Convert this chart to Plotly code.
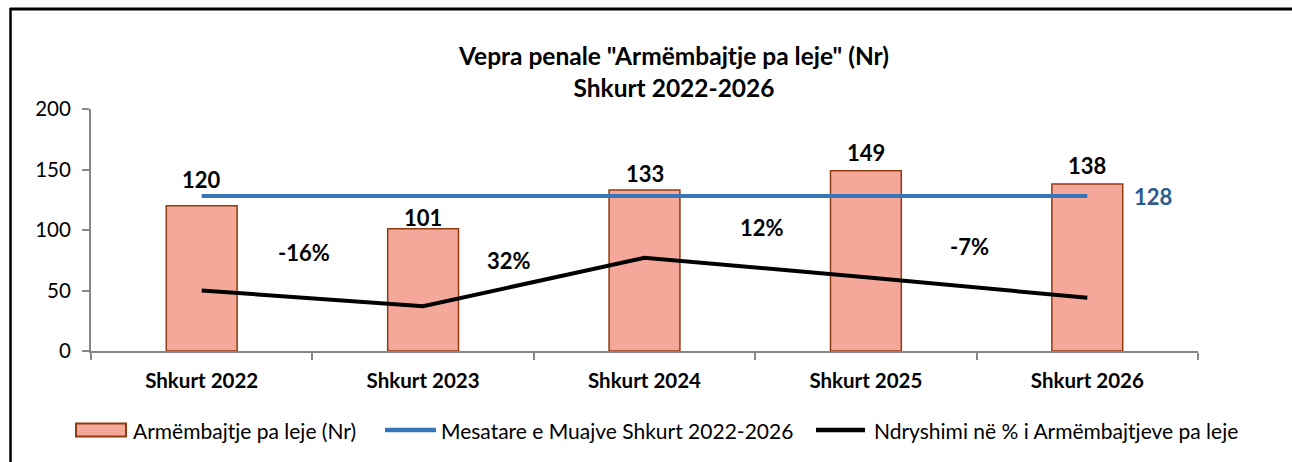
import plotly.graph_objects as go

categories = ["Shkurt 2022", "Shkurt 2023", "Shkurt 2024", "Shkurt 2025", "Shkurt 2026"]
bar_values = [120, 101, 133, 149, 138]
average_value = 128
change_line = [50, 37, 77, 61, 44]
change_labels = ["-16%", "32%", "12%", "-7%"]

bar_name = "Armëmbajtje pa leje (Nr)"
avg_name = "Mesatare e Muajve Shkurt 2022-2026"
chg_name = "Ndryshimi në % i Armëmbajtjeve pa leje"
title_text = 'Vepra penale "Armëmbajtje pa leje" (Nr)<br>Shkurt 2022-2026'

BAR_FILL, BAR_EDGE = "#F5A89A", "#8E3B12"
AVG_COLOR, CHG_COLOR = "#3676B8", "#000000"

W, H = 1292, 462
L, R, T, B = 91, 94, 109, 111
PW, PH = W - L - R, H - T - B

def px(x):
    return (x - L) / PW

def py(y):
    return (H - B - y) / PH

FONT = "Lato"

fig = go.Figure()
fig.add_trace(go.Bar(
    x=categories, y=bar_values, name=bar_name, width=0.32,
    marker=dict(color=BAR_FILL, line=dict(color=BAR_EDGE, width=1.5)),
))
fig.add_trace(go.Scatter(
    x=categories, y=[average_value] * len(categories), name=avg_name, mode="lines",
    line=dict(color=AVG_COLOR, width=4),
))
fig.add_trace(go.Scatter(
    x=categories, y=change_line, name=chg_name, mode="lines",
    line=dict(color=CHG_COLOR, width=4),
))

annotations = []
label_shift = [26, 11, 17, 18, 19]
for c, v, s in zip(categories, bar_values, label_shift):
    annotations.append(dict(x=c, y=v, text=f"<b>{v}</b>", showarrow=False,
                            yshift=s, yanchor="middle",
                            font=dict(family=FONT, size=22, color="#000")))
pct_x = [0.46, 1.39, 2.53, 3.47]
pct_y = [81, 75, 102, 86]
for t, xx, yy in zip(change_labels, pct_x, pct_y):
    annotations.append(dict(x=xx, y=yy, xref="x", yref="y", text=f"<b>{t}</b>",
                            showarrow=False, yanchor="middle",
                            font=dict(family=FONT, size=22, color="#000")))
annotations.append(dict(x=4, y=average_value, xref="x", yref="y", xshift=66,
                        text=f"<b>{average_value}</b>", showarrow=False, yanchor="middle",
                        font=dict(family=FONT, size=22, color="#2A5A8E")))
annotations.append(dict(x=px(673), y=py(72), xref="paper", yref="paper",
                        xanchor="center", yanchor="middle",
                        text=f"<b>{title_text}</b>", showarrow=False,
                        font=dict(family=FONT, size=24.5, color="#000"),
                        align="center"))

shapes = [
    dict(type="line", xref="paper", yref="paper", x0=px(10), x1=px(1300),
         y0=py(9), y1=py(9), line=dict(color="#000", width=3)),
    dict(type="line", xref="paper", yref="paper", x0=px(10.5), x1=px(10.5),
         y0=py(8), y1=py(470), line=dict(color="#000", width=2.5)),
]

# legend drawn as swatches + labels
LEG_Y = 430
legend_items = [
    ("rect", bar_name, 76, 126, 131),
    ("avg", avg_name, 385, 436, 439),
    ("chg", chg_name, 816, 865, 872),
]
for kind, name, x0, x1, tx in legend_items:
    if kind == "rect":
        shapes.append(dict(type="rect", xref="paper", yref="paper",
                           x0=px(x0), x1=px(x1), y0=py(LEG_Y - 6.5), y1=py(LEG_Y + 6.5),
                           fillcolor=BAR_FILL, line=dict(color=BAR_EDGE, width=2)))
    else:
        color = AVG_COLOR if kind == "avg" else CHG_COLOR
        shapes.append(dict(type="line", xref="paper", yref="paper",
                           x0=px(x0), x1=px(x1), y0=py(LEG_Y), y1=py(LEG_Y),
                           line=dict(color=color, width=4.5)))
    annotations.append(dict(x=px(tx), y=py(LEG_Y), xref="paper", yref="paper",
                            xanchor="left", yanchor="middle", text=name, showarrow=False,
                            font=dict(family=FONT, size=21, color="#000")))

fig.update_layout(
    width=W, height=H,
    margin=dict(l=L, r=R, t=T, b=B),
    paper_bgcolor="white", plot_bgcolor="white",
    font=dict(family=FONT, size=18, color="#000"),
    showlegend=False,
    annotations=annotations,
    shapes=shapes,
)
fig.update_xaxes(
    type="category", range=[-0.5, 4.5], showline=True, linecolor="#868686", linewidth=2,
    ticks="outside", tickson="boundaries", ticklen=7, tickcolor="#868686", tickwidth=2,
    tickfont=dict(family=FONT, size=20.5, color="#000"), showgrid=False,
    tickprefix="<b>", ticksuffix="</b>", ticklabelstandoff=10,
)
fig.update_yaxes(
    range=[0, 200], dtick=50, showline=True, linecolor="#868686", linewidth=2,
    ticks="outside", ticklen=7, tickcolor="#868686", tickwidth=2,
    tickfont=dict(family=FONT, size=20.5, color="#000"), showgrid=False, zeroline=False,
    ticklabelstandoff=7,
)

fig.write_html(
    "out.html",
    config={"displayModeBar": False},
    post_script="document.body.style.margin='0';document.body.style.overflow='hidden';",
)
